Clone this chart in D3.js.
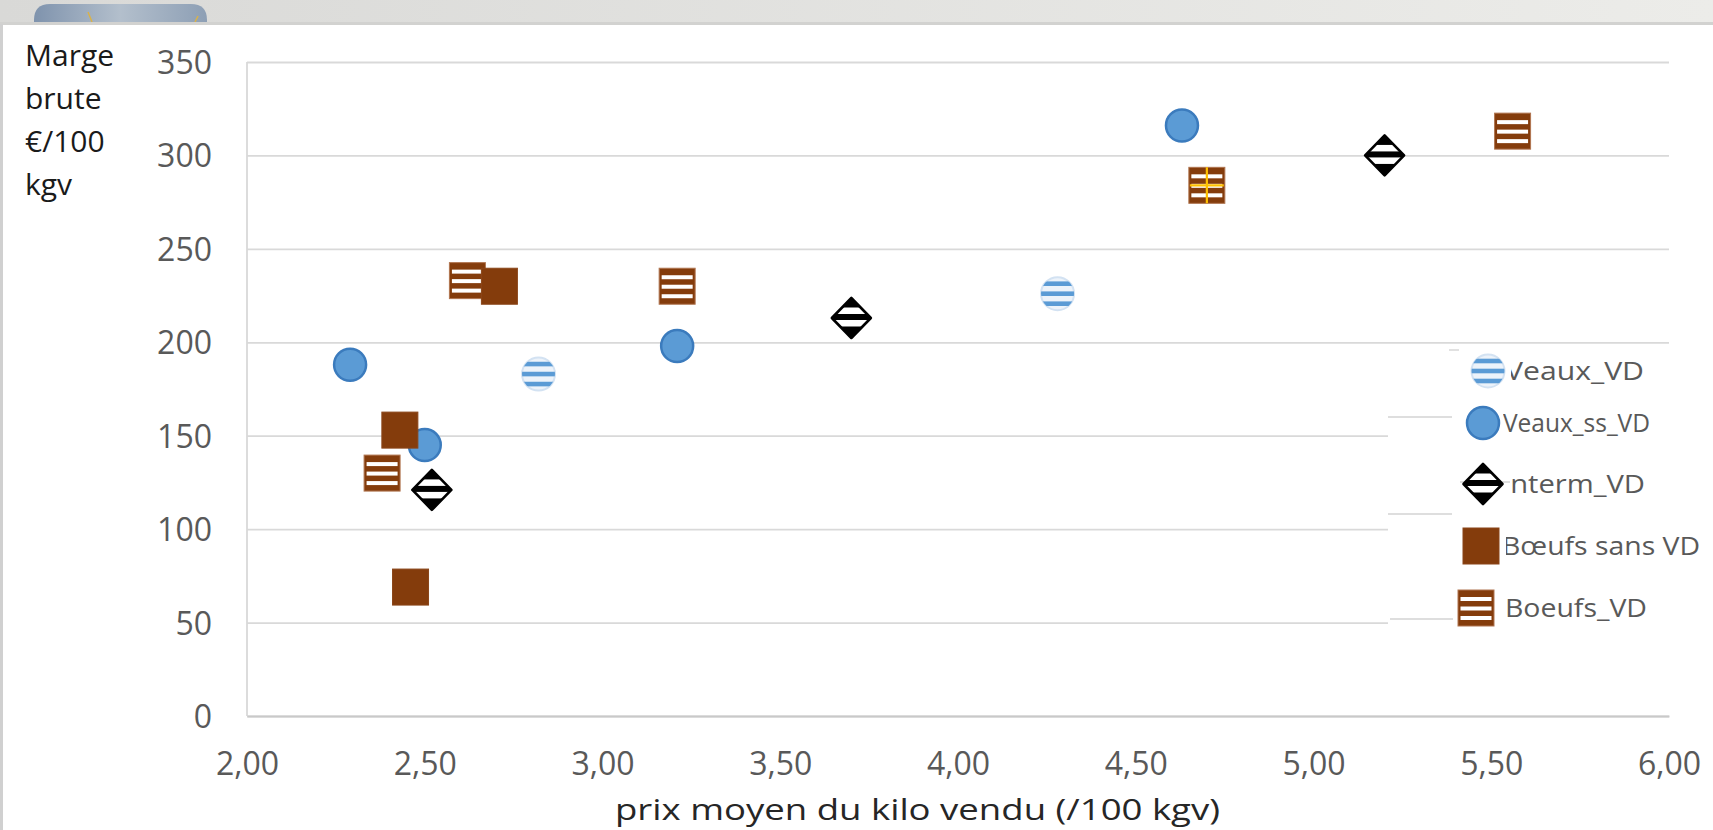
<!DOCTYPE html>
<html>
<head>
<meta charset="utf-8">
<script src="https://cdn.jsdelivr.net/npm/d3@7"></script>
<style>
  html, body { margin: 0; padding: 0; background: #fff; overflow: hidden; }
  svg { display: block; font-family: "Open Sans", sans-serif; }
</style>
</head>
<body>
<div id="chart"></div>
<script>
// series (x = prix moyen du kilo vendu, y = marge brute €/100 kgv)
const veauxVD_x = [2.82, 4.28];
const veauxVD_y = [183, 226];
const veauxSsVD_x = [2.29, 2.50, 3.21, 4.63];
const veauxSsVD_y = [188, 145, 198, 316];
const intermVD_x = [2.52, 3.70, 5.20];
const intermVD_y = [121, 213, 300];
const boeufsSansVD_x = [2.43, 2.46, 2.71];
const boeufsSansVD_y = [153, 69, 230];
const boeufsVD_x = [2.38, 2.62, 3.21, 4.70, 5.56];
const boeufsVD_y = [130, 233, 230, 284, 313];
// little yellow cross seen on one Boeufs_VD marker
const repere_x = [4.70];
const repere_y = [284];

const xTicks = [2, 2.5, 3, 3.5, 4, 4.5, 5, 5.5, 6];
const yTicks = [0, 50, 100, 150, 200, 250, 300, 350];
const yTitle = ["Marge", "brute", "€/100", "kgv"];
const xTitle = "prix moyen du kilo vendu (/100 kgv)";
const legendLabels = ["Veaux_VD", "Veaux_ss_VD", "Interm_VD", "Bœufs sans VD", "Boeufs_VD"];

const W = 1713, H = 830;
const svg = d3.select("#chart").append("svg").attr("width", W).attr("height", H);
const defs = svg.append("defs");

// page chrome: grey strip, photo corner, card border
const g1 = defs.append("linearGradient").attr("id", "strip").attr("x1", 0).attr("x2", 1);
g1.append("stop").attr("offset", 0).attr("stop-color", "#d9d9d7");
g1.append("stop").attr("offset", 1).attr("stop-color", "#ecece9");
const g2 = defs.append("linearGradient").attr("id", "photo").attr("x1", 0).attr("x2", 1);
g2.append("stop").attr("offset", 0).attr("stop-color", "#7f93ad");
g2.append("stop").attr("offset", 0.5).attr("stop-color", "#b3bfcc");
g2.append("stop").attr("offset", 1).attr("stop-color", "#8d9fb5");

svg.append("rect").attr("width", W).attr("height", 24).attr("fill", "url(#strip)");
svg.append("path").attr("d", "M34,24 V20 Q34,4 50,4 H191 Q207,4 207,20 V24 Z").attr("fill", "url(#photo)");
svg.append("line").attr("x1", 88).attr("x2", 92).attr("y1", 12).attr("y2", 22).attr("stroke", "#d9b24a").attr("stroke-width", 1.5);
svg.append("line").attr("x1", 198).attr("x2", 195).attr("y1", 16).attr("y2", 22).attr("stroke", "#d9b24a").attr("stroke-width", 1.5);
svg.append("rect").attr("x", 0).attr("y", 22).attr("width", W).attr("height", 3).attr("fill", "#d2d2d0");
svg.append("rect").attr("x", 0).attr("y", 24).attr("width", 3).attr("height", H).attr("fill", "#d0d0d0");

const x = d3.scaleLinear().domain([2, 6]).range([247, 1669]);
const y = d3.scaleLinear().domain([0, 350]).range([716, 62]);
const fr = d3.formatLocale({decimal: ",", thousands: "\u00a0", grouping: [3], currency: ["", " €"]});

// y axis with gridlines
const yAxis = svg.append("g").attr("transform", "translate(247,0)")
    .call(d3.axisLeft(y).tickValues(yTicks).tickSize(-(1669 - 247)).tickPadding(35).tickFormat(d3.format("d")));
yAxis.select(".domain").remove();
yAxis.selectAll(".tick line").attr("stroke", "#d9d9d9").attr("stroke-width", 1.8);
yAxis.selectAll(".tick text").attr("fill", "#595959").attr("font-size", 32).attr("font-family", "Open Sans").attr("dy", "0.36em");
svg.append("line").attr("x1", 247).attr("x2", 247).attr("y1", y(350)).attr("y2", y(0))
    .attr("stroke", "#d9d9d9").attr("stroke-width", 1.8);

// x axis
const xAxis = svg.append("g").attr("transform", "translate(0,716)")
    .call(d3.axisBottom(x).tickValues(xTicks).tickSize(0).tickPadding(36).tickFormat(fr.format(".2f")));
xAxis.select(".domain").attr("stroke", "#c9c9c9").attr("stroke-width", 1.8);
xAxis.selectAll(".tick text").attr("fill", "#595959").attr("font-size", 32).attr("font-family", "Open Sans");

// titles
svg.append("text").attr("x", 615).attr("y", 820)
    .attr("textLength", 605).attr("lengthAdjust", "spacingAndGlyphs")
    .attr("font-size", 29).attr("fill", "#262626").text(xTitle);
svg.append("g").selectAll("text").data(yTitle).enter().append("text")
    .attr("x", 25).attr("y", (d, i) => 66 + i * 43)
    .attr("font-size", 30).attr("fill", "#1a1a1a").text(d => d);

// marker clips (local coordinates)
defs.append("clipPath").attr("id", "clip-circle").append("circle").attr("r", 16.5);
defs.append("clipPath").attr("id", "clip-diamond").append("path").attr("d", "M0,-20 L19.5,0 L0,20 L-19.5,0 Z");

function stripedCircle(g) {
    g.append("circle").attr("r", 16.5).attr("fill", "#edf3fa").attr("stroke", "#d3e2f2").attr("stroke-width", 2);
    const s = g.append("g").attr("clip-path", "url(#clip-circle)");
    [-10, 0, 10].forEach(o => s.append("rect").attr("x", -17).attr("y", o - 2.3).attr("width", 34).attr("height", 4.6).attr("fill", "#5b9bd5"));
}
function solidCircle(g) {
    g.append("circle").attr("r", 16).attr("fill", "#5b9bd5").attr("stroke", "#3b7bbd").attr("stroke-width", 2.5);
}
function stripedDiamond(g) {
    g.append("path").attr("d", "M0,-20 L19.5,0 L0,20 L-19.5,0 Z").attr("fill", "#fff");
    const s = g.append("g").attr("clip-path", "url(#clip-diamond)");
    [[-21, -10.5], [-4, 2], [8.5, 21]].forEach(b => s.append("rect").attr("x", -20).attr("y", b[0]).attr("width", 40).attr("height", b[1] - b[0]).attr("fill", "#000"));
    g.append("path").attr("d", "M0,-20 L19.5,0 L0,20 L-19.5,0 Z").attr("fill", "none").attr("stroke", "#000").attr("stroke-width", 2.6).attr("stroke-linejoin", "round");
}
function solidSquare(g) {
    g.append("rect").attr("x", -18).attr("y", -18).attr("width", 36).attr("height", 36)
        .attr("fill", "#843c0c").attr("stroke", "#8a4519").attr("stroke-width", 1);
}
function stripedSquare(g) {
    g.append("rect").attr("x", -18).attr("y", -18).attr("width", 36).attr("height", 36)
        .attr("fill", "#843c0c").attr("stroke", "#b07550").attr("stroke-width", 1);
    [-9, 0.5, 10].forEach(o => g.append("rect").attr("x", -15.5).attr("y", o - 2).attr("width", 31).attr("height", 4).attr("fill", "#fff"));
}

const series = [
    {xs: veauxVD_x, ys: veauxVD_y, draw: stripedCircle},
    {xs: veauxSsVD_x, ys: veauxSsVD_y, draw: solidCircle},
    {xs: intermVD_x, ys: intermVD_y, draw: stripedDiamond},
    {xs: boeufsVD_x, ys: boeufsVD_y, draw: stripedSquare},
    {xs: boeufsSansVD_x, ys: boeufsSansVD_y, draw: solidSquare}
];

const plot = svg.append("g");
series.forEach(s => {
    plot.append("g").selectAll("g").data(s.xs.map((v, i) => [v, s.ys[i]])).enter().append("g")
        .attr("transform", d => `translate(${x(d[0])},${y(d[1])})`)
        .each(function() { s.draw(d3.select(this)); });
});
plot.append("g").selectAll("path").data(repere_x.map((v, i) => [v, repere_y[i]])).enter().append("path")
    .attr("transform", d => `translate(${x(d[0])},${y(d[1])})`)
    .attr("d", "M-17,0 H17 M0,-18 V18").attr("stroke", "#ffc000").attr("stroke-width", 2.2);

// legend (white box over the right part of the plot, with stray line bits)
const leg = svg.append("g");
leg.append("rect").attr("x", 1388).attr("y", 348).attr("width", W - 1388).attr("height", 292).attr("fill", "#fff");
[[1449, 1459, 350], [1388, 1452, 417], [1460, 1510, 482], [1388, 1452, 514], [1390, 1453, 619]].forEach(l =>
    leg.append("line").attr("x1", l[0]).attr("x2", l[1]).attr("y1", l[2]).attr("y2", l[2]).attr("stroke", "#dedede").attr("stroke-width", 1.8));

const legItems = [
    {draw: stripedCircle, mx: 1488, my: 371, tx: 1505, len: 139, clip: 1511},
    {draw: solidCircle, mx: 1483, my: 423, tx: 1503, len: 147, clip: 1503},
    {draw: stripedDiamond, mx: 1483, my: 484, tx: 1502, len: 143, clip: 1511},
    {draw: solidSquare, mx: 1481, my: 546, tx: 1502, len: 198, clip: 1506},
    {draw: stripedSquare, mx: 1476, my: 608, tx: 1505, len: 142, clip: 1505}
];
legItems.forEach((it, i) => {
    defs.append("clipPath").attr("id", "legclip" + i).append("rect")
        .attr("x", it.clip).attr("y", it.my - 30).attr("width", 300).attr("height", 60);
    leg.append("text").attr("x", it.tx).attr("y", it.my).attr("dy", "0.36em")
        .attr("textLength", it.len).attr("lengthAdjust", "spacingAndGlyphs")
        .attr("clip-path", `url(#legclip${i})`)
        .attr("font-size", 26).attr("fill", "#595959").text(legendLabels[i]);
    it.draw(leg.append("g").attr("transform", `translate(${it.mx},${it.my})`));
});
</script>
</body>
</html>
